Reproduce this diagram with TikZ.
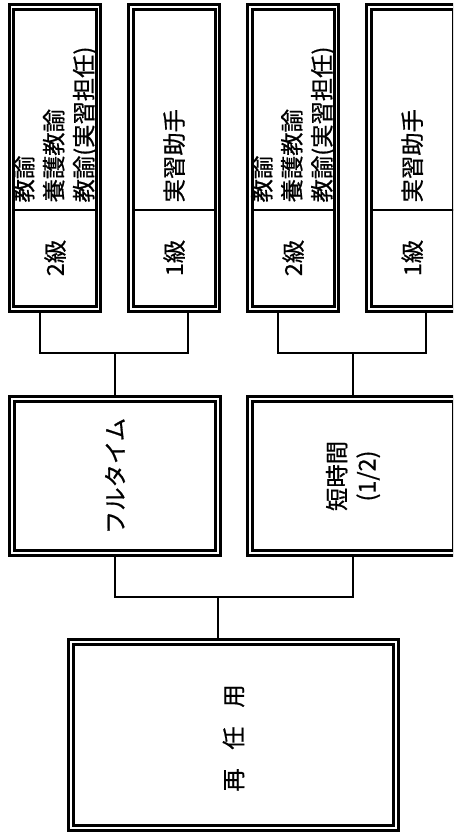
\documentclass[tikz,border=0pt]{standalone}
\usepackage{fontspec}
\newfontfamily\jpfont[FakeBold=0.7]{Noto Sans CJK JP}
\usetikzlibrary{positioning,calc}
\tikzset{
  dbox/.style={draw,double,line width=2.25pt,double distance=1.3pt,inner sep=0pt,outer sep=1.5pt},
  leaf/.style={dbox,minimum width=65.1pt,minimum height=226.7pt},
  midbox/.style={dbox,minimum width=154.7pt,minimum height=115.7pt},
  lbl/.style={rotate=90,font=\jpfont\fontsize{17.5}{22.5}\selectfont,inner sep=1pt,align=left},
  conn/.style={line width=1.9pt},
  divider/.style={line width=1.8pt,shorten <=3pt,shorten >=3pt}
}

\begin{document}
\begin{tikzpicture}[x=0.75pt,y=-0.75pt]
  \useasboundingbox (0,0) rectangle (453,834);
  \clip (0,0) rectangle (453,834);
  % leaves
  \node[leaf] (leafA) at (55,158) {};
  \node[leaf,right=21.2pt of leafA] (leafB) {};
  \node[leaf,right=21.2pt of leafB] (leafC) {};
  \node[leaf,right=21.2pt of leafC] (leafD) {};
  \foreach \n in {leafA,leafB,leafC,leafD}
    \draw[divider] ($(\n.west)+(0,52)$) -- ($(\n.east)+(0,52)$);
  \node[lbl,anchor=west] (tA) at ($(leafA.center)+(0,46)$) {教諭\\養護教諭\\教諭(実習担任)};
  \node[lbl,anchor=west] (tB) at ($(leafB.center)+(0,46)$) {実習助手};
  \node[lbl,anchor=west] (tC) at ($(leafC.center)+(0,46)$) {教諭\\養護教諭\\教諭(実習担任)};
  \node[lbl,anchor=west] (tD) at ($(leafD.center)+(0,46)$) {実習助手};
  \node[lbl] (gA) at ($(leafA.center)+(0,100)$) {2級};
  \node[lbl] (gB) at ($(leafB.center)+(0,100)$) {1級};
  \node[lbl] (gC) at ($(leafC.center)+(0,100)$) {2級};
  \node[lbl] (gD) at ($(leafD.center)+(0,100)$) {1級};
  % middle row
  \node[midbox] (full) at (115,476) {};
  \node[lbl] at (full.center) {フルタイム};
  \node[midbox] (short) at (353,476) {};
  \node[lbl,align=center] at (short.center) {短時間\\(1/2)};
  % root
  \node[dbox,minimum width=243.9pt,minimum height=139.7pt] (root) at (233.5,735) {};
  \node[lbl] at ($(root.center)+(0,3)$) {再\hspace{0.8em}任\hspace{0.8em}用};
  % connectors
  \coordinate (busF) at ($(full.north)+(0,-44)$);
  \coordinate (busS) at ($(short.north)+(0,-44)$);
  \coordinate (busR) at ($(root.north)+(-15.5,-43)$);
  \draw[conn] ($(leafA.south)+(-15,0)$) |- (busF) -| ($(leafB.south)+(14,0)$);
  \draw[conn] (busF) -- (full.north);
  \draw[conn] ($(leafC.south)+(-15,0)$) |- (busS) -| ($(leafD.south)+(14,0)$);
  \draw[conn] (busS) -- (short.north);
  \draw[conn] (full.south) |- (busR) -| (short.south);
  \draw[conn] (busR) -- (busR |- root.north);
\end{tikzpicture}
\end{document}
